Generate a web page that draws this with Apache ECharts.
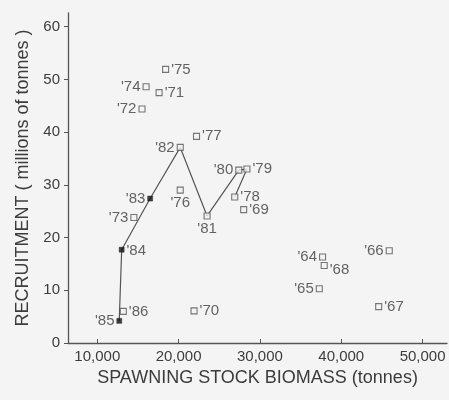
<!DOCTYPE html>
<html>
<head>
<meta charset="utf-8">
<script src="https://cdn.jsdelivr.net/npm/echarts@6/dist/echarts.min.js"></script>
<style>
html,body{margin:0;padding:0;background:#f4f4f4;}
#chart{width:449px;height:400px;}
</style>
</head>
<body>
<div id="chart"></div>
<script>
// Data
const yearLabels = ["'64","'65","'66","'67","'68","'69","'70","'71","'72","'73","'74","'75","'76","'77","'78","'79","'80","'81","'82","'83","'84","'85","'86"];
const biomass = [37700,37300,45900,44600,37900,28000,21900,17600,15500,14500,16000,18400,20200,22200,26900,28400,27400,23500,20200,16500,13000,12700,13200];
const recruitment = [16.3,10.3,17.5,6.9,14.7,25.3,6.1,47.5,44.4,23.8,48.6,51.9,29.0,39.2,27.7,33.0,32.8,24.1,37.1,27.4,17.7,4.2,6.0];
const pathYears = ["'78","'79","'80","'81","'82","'83","'84","'85"];
const filledYears = ["'83","'84","'85"];
const xTicks = [10000,20000,30000,40000,50000];
const yTicks = [0,10,20,30,40,50,60];

const labelSide = {
  "'64":'left',"'65":'left',"'66":'left',"'67":'right',"'68":'right',"'69":'right',
  "'70":'right',"'71":'right',"'72":'left',"'73":'left',"'74":'left',"'75":'right',
  "'76":'bottom',"'77":'right',"'78":'right',"'79":'right',"'80":'left',"'81":'bottom',
  "'82":'left',"'83":'left',"'84":'right',"'85":'left',"'86":'right'
};
const labelOffset = {"'68":[0,4],"'84":[0,1]};

const ink = '#3c3c3c';
const font = 'Liberation Sans, Arial, Helvetica, sans-serif';

function item(i){
  const y = yearLabels[i];
  return {
    value:[biomass[i], recruitment[i]],
    name:y,
    label:{show:true, position:labelSide[y], distance:2, offset:labelOffset[y]||[0,0]}
  };
}
const openData = [], filledData = [];
yearLabels.forEach((y,i)=>{ (filledYears.includes(y)?filledData:openData).push(item(i)); });
const pathData = pathYears.map(y=>{const i=yearLabels.indexOf(y); return [biomass[i], recruitment[i]];});

const labelStyle = {color:ink, fontSize:15, fontFamily:font, formatter:p=>p.name};

const chart = echarts.init(document.getElementById('chart'), null, {renderer:'canvas'});
chart.setOption({
  backgroundColor:'#f4f4f4',
  animation:false,
  grid:{left:68, right:2, top:13, bottom:57, containLabel:false},
  xAxis:{
    type:'value', min:6400, max:53000,
    name:'SPAWNING STOCK BIOMASS (tonnes)', nameLocation:'middle', nameGap:22,
    nameTextStyle:{color:ink, fontSize:18, fontFamily:font},
    axisLine:{show:true, lineStyle:{color:'#555', width:1.3}},
    axisTick:{show:true, inside:true, length:4, customValues:xTicks, lineStyle:{color:'#555'}},
    axisLabel:{color:ink, fontSize:15, fontFamily:font, margin:6, customValues:xTicks,
      formatter:v=>v.toLocaleString('en-US')},
    splitLine:{show:false}
  },
  yAxis:{
    type:'value', min:0, max:62.6,
    name:'RECRUITMENT ( millions of tonnes )', nameLocation:'middle', nameGap:31,
    nameTextStyle:{color:ink, fontSize:18, fontFamily:font},
    axisLine:{show:true, lineStyle:{color:'#555', width:1.3}},
    axisTick:{show:true, inside:false, length:4, customValues:yTicks, lineStyle:{color:'#555'}},
    axisLabel:{color:ink, fontSize:15, fontFamily:font, margin:8, customValues:yTicks},
    splitLine:{show:false}
  },
  series:[
    {type:'line', data:pathData, showSymbol:false, symbol:'none', z:1,
     lineStyle:{color:'#555', width:1.2}},
    {type:'scatter', data:openData, symbol:'rect', symbolSize:6, z:3,
     itemStyle:{color:'#f4f4f4', borderColor:'#555', borderWidth:1.1},
     label:labelStyle},
    {type:'scatter', data:filledData, symbol:'rect', symbolSize:5, z:3,
     itemStyle:{color:'#111', borderColor:'#111', borderWidth:0.5},
     label:labelStyle}
  ]
});
</script>
</body>
</html>
